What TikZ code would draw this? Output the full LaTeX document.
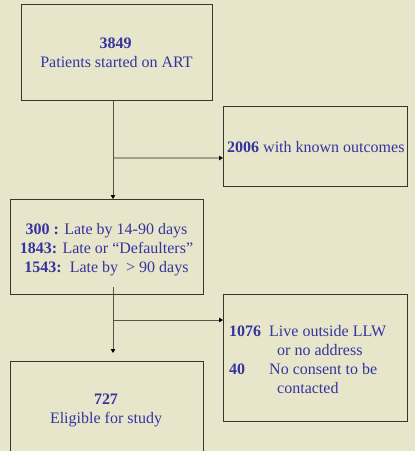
\documentclass[tikz,border=0pt]{standalone}
\usepackage{fontspec}
\setmainfont{Liberation Serif}
\usetikzlibrary{arrows.meta}
\definecolor{bg}{RGB}{232,230,202}
\definecolor{txt}{RGB}{52,52,160}
\definecolor{frame}{RGB}{55,55,50}
\definecolor{conn}{RGB}{85,85,75}
\definecolor{lconn}{RGB}{160,160,140}
\begin{document}
\begin{tikzpicture}[x=1pt,y=-1pt,
  box/.style={draw=frame, line width=1.3pt, anchor=north west, inner sep=0pt},
  lbl/.style={text=txt, font=\fontsize{16}{19}\selectfont, inner sep=0pt, anchor=base},
  lbll/.style={lbl, anchor=base west},
  conn/.style={draw=conn, line width=0.9pt, -{Triangle[length=4pt,width=4.5pt,color=black]}},
]
\fill[bg] (0,0) rectangle (415,451);
\clip (0,0) rectangle (415,451);
% boxes
\node[box, minimum width=191pt, minimum height=96pt] (b1) at (21,4) {};
\node[box, minimum width=184pt, minimum height=80pt] (b2) at (223,106) {};
\node[box, minimum width=193pt, minimum height=95pt] (b3) at (10,199) {};
\node[box, minimum width=193pt, minimum height=95pt] (b4) at (10,361) {};
\node[box, minimum width=184pt, minimum height=127pt] (b5) at (223,294) {};
% texts
\node[lbl] (t1a) at (115.5,48.5) {\textbf{3849}};
\node[lbl] (t1b) at (116.5,67.5) {Patients started on ART};
\node[lbll] (t2) at (227,152.5) {\textbf{2006} with known outcomes};
\node[lbl] (t3a) at (106.5,234.5) {\textbf{300 :} Late by 14-90 days};
\node[lbl] (t3b) at (106.5,253.5) {\textbf{1843:} Late or “Defaulters”};
\node[lbl] (t3c) at (106.5,272.5) {\textbf{1543:}\ \ Late by\ \ > 90 days};
\node[lbl] (t4a) at (106,404.5) {\textbf{727}};
\node[lbl] (t4b) at (106,423.5) {Eligible for study};
\node[lbll] (t5a) at (229,336) {\textbf{1076}};
\node[lbll] (t5b) at (269,336) {Live outside LLW};
\node[lbll] (t5c) at (277,355) {or no address};
\node[lbll] (t5d) at (229,374) {\textbf{40}};
\node[lbll] (t5e) at (269,374) {No consent to be};
\node[lbll] (t5f) at (277,393) {contacted};
% connectors
\coordinate (j1) at (114,158);
\coordinate (s2) at (113,287);
\coordinate (e2) at (113,353);
\coordinate (j2) at (113,320);
\draw[conn] (b1.south -| s2) -- (b3.north -| s2);
\draw[conn, draw=lconn, line width=1.5pt] (j1) -- (j1 -| b2.west);
\draw[conn] (s2) -- (e2);
\draw[conn] (j2) -- (j2 -| b5.west);
\end{tikzpicture}
\end{document}
